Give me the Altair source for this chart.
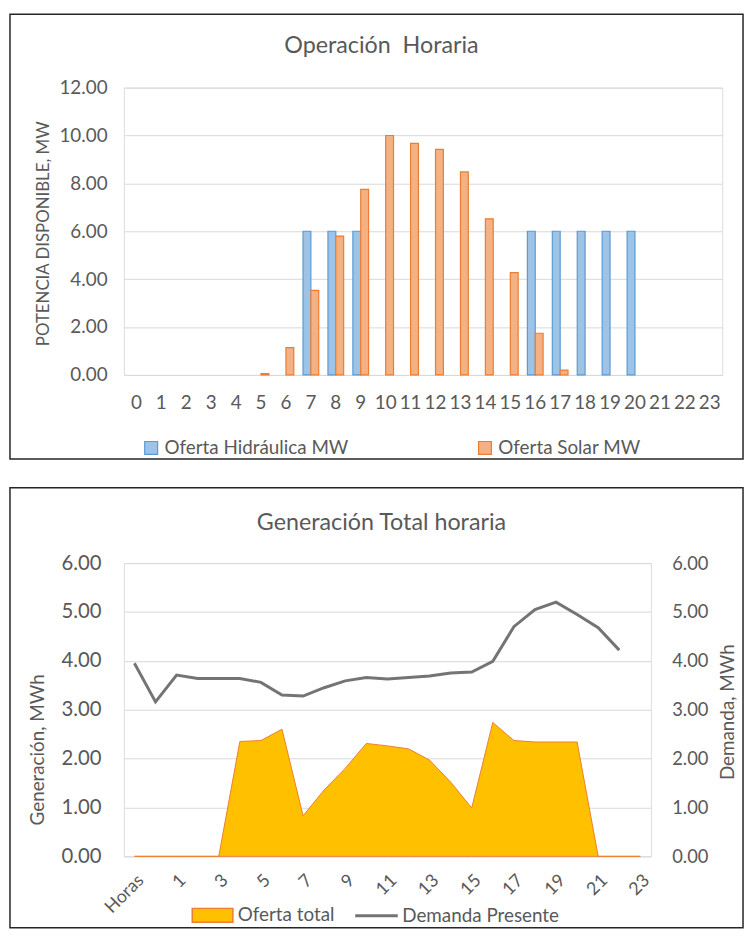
import altair as alt
import pandas as pd

FONT = "Lato"
TXT = "#595959"
GRID = "#d9d9d9"

# ---------- top chart data ----------
hours = list(range(24))
series_top = ["Oferta Hidráulica MW", "Oferta Solar MW"]
hidro = [0, 0, 0, 0, 0, 0, 0, 6, 6, 6, 0, 0, 0, 0, 0, 0, 6, 6, 6, 6, 6, 0, 0, 0]
solar = [0, 0, 0, 0, 0, 0.05, 1.14, 3.53, 5.80, 7.75, 10.0, 9.67, 9.42, 8.48,
         6.52, 4.27, 1.74, 0.20, 0, 0, 0, 0, 0, 0]
y_ticks_top = [0, 2, 4, 6, 8, 10, 12]
fill_top = ["#9DC3E6", "#F4B183"]
stroke_top = ["#5B9BD5", "#ED7D31"]

# ---------- bottom chart data ----------
cats = ["Horas"] + [str(h) for h in range(24)]
oferta = [0, 0, 0, 0, 0, 2.35, 2.37, 2.60, 0.83, 1.36, 1.80, 2.31, 2.26, 2.20,
          1.97, 1.52, 0.99, 2.74, 2.37, 2.34, 2.34, 2.34, 0, 0, 0]
demanda = [3.95, 3.16, 3.71, 3.64, 3.64, 3.64, 3.56, 3.30, 3.28, 3.45, 3.59, 3.66,
           3.63, 3.66, 3.69, 3.75, 3.77, 3.99, 4.70, 5.05, 5.20, 4.95, 4.68, 4.22]
y_ticks_bot = [0, 1, 2, 3, 4, 5, 6]

one = pd.DataFrame({"k": [0]})

# ---------- top chart ----------
top_df = pd.DataFrame({
    "hora": hours * 2,
    "serie": [series_top[0]] * 24 + [series_top[1]] * 24,
    "valor": hidro + solar,
})

leg_top = dict(orient="none", legendX=18, legendY=354, direction="horizontal",
               title=None, labelFont=FONT, labelFontSize=19, labelColor=TXT,
               labelLimit=0, symbolType="square", symbolSize=169, symbolStrokeWidth=1.2,
               columnPadding=128, labelOffset=4)

bars = alt.Chart(top_df).transform_filter("datum.valor > 0").mark_bar(strokeWidth=1.2).encode(
    x=alt.X("hora:O", scale=alt.Scale(domain=hours, paddingInner=0.37, paddingOuter=0.185),
            axis=alt.Axis(title=None, labelAngle=0, labelFont=FONT, labelFontSize=19,
                          labelColor=TXT, labelPadding=19, ticks=False, tickSize=0,
                          domain=False, grid=False, labelOverlap=False)),
    xOffset=alt.XOffset("serie:N", sort=series_top,
                        scale=alt.Scale(domain=series_top, paddingInner=0, paddingOuter=0)),
    y=alt.Y("valor:Q", scale=alt.Scale(domain=[0, 12]),
            axis=alt.Axis(values=y_ticks_top, format=".2f", title="POTENCIA DISPONIBLE, MW",
                          labelFont=FONT, labelFontSize=19, labelColor=TXT, labelPadding=17,
                          ticks=False, tickSize=0, domain=False, grid=True, gridColor=GRID,
                          titleFont=FONT, titleFontSize=17, titleFontWeight="normal",
                          titleColor=TXT, titleX=-81, titleY=147, titleAngle=270,
                          titleBaseline="middle")),
    color=alt.Color("serie:N", sort=series_top,
                    scale=alt.Scale(domain=series_top, range=fill_top),
                    legend=alt.Legend(**leg_top)),
    stroke=alt.Stroke("serie:N", sort=series_top,
                      scale=alt.Scale(domain=series_top, range=stroke_top),
                      legend=alt.Legend(**leg_top)),
)

frame_top = alt.Chart(one).mark_rect(fill="transparent", stroke="#262626", strokeWidth=1.5).encode(
    x=alt.value(-115), x2=alt.value(625), y=alt.value(-74), y2=alt.value(375))
title_top = alt.Chart(one).mark_text(font=FONT, fontSize=23.5, color=TXT, align="center",
                                     baseline="middle").encode(
    x=alt.value(260), y=alt.value(-42), text=alt.value("Operación\u00a0 Horaria"))

top = alt.layer(bars, frame_top, title_top).properties(width=604, height=290)

# ---------- bottom chart ----------
area_df = pd.DataFrame({"hora": cats, "oferta": oferta, "s": "Oferta total"})
line_df = pd.DataFrame({"hora": cats[:24], "demanda": demanda, "s": "Demanda Presente"})

xaxis_b = alt.Axis(values=cats[0::2], title=None, labelAngle=-45, labelFont=FONT,
                   labelFontSize=18, labelColor=TXT, labelPadding=15, ticks=False,
                   tickSize=0, domain=False, grid=False, labelOverlap=False)
xb = alt.X("hora:N", sort=cats, scale=alt.Scale(type="point", padding=0.5, domain=cats),
           axis=xaxis_b)

area = alt.Chart(area_df).mark_area(stroke="#ED7D31", strokeWidth=1, fillOpacity=1).encode(
    x=xb,
    y=alt.Y("oferta:Q", scale=alt.Scale(domain=[0, 6]),
            axis=alt.Axis(values=y_ticks_bot, format=".2f", title="Generación, MWh",
                          labelFont=FONT, labelFontSize=20.5, labelColor=TXT, labelPadding=23,
                          ticks=False, tickSize=0, domain=False, grid=True, gridColor=GRID,
                          titleFont=FONT, titleFontSize=19, titleFontWeight="normal",
                          titleColor=TXT, titleX=-87, titleY=188, titleAngle=270,
                          titleBaseline="middle")),
    fill=alt.Fill("s:N", scale=alt.Scale(domain=["Oferta total"], range=["#FFC000"]),
                  legend=alt.Legend(orient="none", legendX=68, legendY=334, title=None,
                                    symbolType="M-1,-0.34H1V0.34H-1Z", symbolSize=1681,
                                    symbolStrokeColor="#ED7D31", symbolStrokeWidth=1.5,
                                    labelFont=FONT, labelFontSize=19, labelColor=TXT,
                                    labelLimit=0, labelOffset=4)),
)

line = alt.Chart(line_df).mark_line(strokeWidth=3).encode(
    x=xb,
    y=alt.Y("demanda:Q", scale=alt.Scale(domain=[0, 6]),
            axis=alt.Axis(orient="right", values=y_ticks_bot, format=".2f",
                          title="Demanda, MWh", labelFont=FONT, labelFontSize=18.5,
                          labelColor=TXT, labelPadding=21, ticks=False, tickSize=0,
                          domain=False, grid=False, titleFont=FONT, titleFontSize=19,
                          titleFontWeight="normal", titleColor=TXT, titleX=77, titleY=150,
                          titleAngle=270, titleBaseline="middle")),
    stroke=alt.Stroke("s:N", scale=alt.Scale(domain=["Demanda Presente"], range=["#747474"]),
                      legend=alt.Legend(orient="none", legendX=232, legendY=333, title=None,
                                        symbolType="stroke", symbolSize=1849,
                                        symbolStrokeWidth=3, labelFont=FONT,
                                        labelFontSize=19, labelColor=TXT, labelLimit=0,
                                        labelOffset=3)),
)

frame_bot = alt.Chart(one).mark_rect(fill="transparent", stroke="#262626", strokeWidth=1.5).encode(
    x=alt.value(-115), x2=alt.value(625), y=alt.value(-76), y2=alt.value(368))
title_bot = alt.Chart(one).mark_text(font=FONT, fontSize=23.5, color=TXT, align="center",
                                     baseline="middle").encode(
    x=alt.value(260), y=alt.value(-40), text=alt.value("Generación Total horaria"))

bot = alt.layer(area, line, frame_bot, title_bot).resolve_scale(y="independent").properties(
    width=532, height=296)

chart = (
    alt.vconcat(top, bot, spacing=25)
    .resolve_scale(color="independent", fill="independent", stroke="independent")
    .resolve_legend(color="independent", fill="independent", stroke="independent")
    .properties(padding=0)
    .configure_view(strokeWidth=0)
    .configure(font=FONT)
)

chart.save("out.html", embed_options={"renderer": "svg", "actions": False})
